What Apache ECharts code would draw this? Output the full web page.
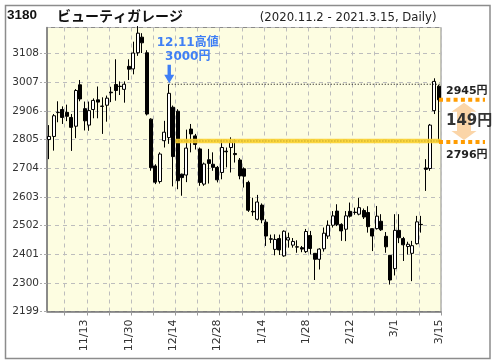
<!DOCTYPE html>
<html><head><meta charset="utf-8">
<script src="https://cdn.jsdelivr.net/npm/echarts@6/dist/echarts.min.js"></script>
<style>html,body{margin:0;padding:0;background:#fff}#c{width:496px;height:364px}</style>
</head><body><div id="c"></div>
<script>
const dates = ['11/2','11/4','11/5','11/6','11/9','11/10','11/11','11/12','11/13','11/16','11/17','11/18','11/19','11/20','11/24','11/25','11/26','11/27','11/30',
'12/1','12/2','12/3','12/4','12/7','12/8','12/9','12/10','12/11','12/14','12/15','12/16','12/17','12/18','12/21','12/22','12/23','12/24','12/25','12/28','12/29','12/30',
'1/4','1/5','1/6','1/7','1/8','1/12','1/13','1/14','1/15','1/18','1/19','1/20','1/21','1/22','1/25','1/26','1/27','1/28','1/29',
'2/1','2/2','2/3','2/4','2/5','2/8','2/9','2/10','2/12','2/15','2/16','2/17','2/18','2/19','2/22','2/24','2/25','2/26',
'3/1','3/2','3/3','3/4','3/5','3/8','3/9','3/10','3/11','3/12','3/15'];
const opens = [2805,2816,2900,2911,2901,2883,2852,2998,2914,2856,2911,2945,2923,2926,2972,2999,2993,2982,3063,
3054,3111,3166,3111,2877,2712,2657,2801,2812,2919,2905,2683,2680,2842,2818,2772,2648,2734,2718,2707,2689,2764,
2777,2756,2733,2702,2654,2552,2524,2574,2514,2455,2418,2456,2395,2451,2433,2427,2424,2410,2467,
2404,2383,2420,2465,2503,2553,2506,2489,2552,2549,2542,2555,2548,2491,2491,2517,2464,2397,
2350,2485,2456,2428,2404,2438,2506,2705,2703,2907,2993];
const closes = [2816,2889,2901,2883,2887,2848,2978,2948,2871,2907,2943,2937,2922,2951,2970,2978,2992,3000,3053,
3110,3180,3146,2895,2706,2655,2754,2831,2968,2745,2660,2671,2775,2825,2788,2654,2719,2721,2707,2663,2777,2762,
2795,2752,2677,2676,2556,2550,2585,2522,2465,2454,2453,2416,2482,2459,2446,2426,2419,2481,2421,
2383,2419,2475,2503,2536,2506,2483,2536,2535,2548,2565,2532,2498,2465,2535,2487,2427,2310,
2485,2459,2434,2436,2431,2515,2505,2700,2856,3010,2945];
const lows = [2736,2766,2866,2860,2870,2765,2810,2940,2837,2836,2880,2880,2825,2868,2937,2942,2962,2935,3015,
3035,3100,3110,2890,2695,2648,2650,2777,2790,2640,2630,2607,2655,2760,2770,2642,2642,2650,2695,2654,2665,2707,
2689,2724,2665,2636,2550,2536,2520,2510,2430,2440,2397,2398,2392,2424,2424,2406,2408,2405,2400,
2310,2347,2410,2455,2495,2500,2448,2447,2530,2540,2538,2525,2477,2412,2488,2483,2406,2294,
2326,2440,2377,2400,2306,2435,2477,2624,2695,2895,2796];
const highs = [2856,2895,2940,2922,2928,2895,2983,3015,2939,2939,2950,2992,2954,2960,2991,3088,3010,3010,3088,
3150,3205,3180,3120,2880,2718,2760,2871,3000,2925,2912,2685,2840,2860,2825,2777,2724,2772,2760,2712,2805,2777,
2813,2807,2740,2707,2660,2600,2610,2580,2524,2470,2471,2470,2485,2477,2458,2450,2430,2490,2483,
2404,2422,2495,2520,2553,2577,2510,2553,2583,2565,2600,2562,2570,2491,2571,2542,2479,2397,
2542,2542,2462,2445,2448,2536,2536,2736,2860,3021,2998];
const xLabelDates = ['11/13','11/30','12/14','12/28','1/14','1/28','2/12','3/1','3/15'];
const yMin = 2199, yMax = 3200, yStep = 101;
const stockCode = '3180';
const stockName = 'ビューティガレージ';
const periodText = '(2020.11.2 - 2021.3.15, Daily)';
const peakIndex = 27, peakValue = 3000;
const peakLabel1 = '12.11高値', peakLabel2 = '3000円';
const supportIndex = 28, supportValue = 2800;
const lastPrice = 2945, lastLow = 2796;
const lastPriceLabel = '2945円', lastLowLabel = '2796円', diffLabel = '149円';

const FONT = "'DejaVu Sans','Noto Sans CJK JP',sans-serif";
const chart = echarts.init(document.getElementById('c'));
const candleData = opens.map((o, i) => [o, closes[i], lows[i], highs[i]]);
const tickFn = (i) => (i - 4) % 5 === 0;
chart.setOption({
  animation: false,
  backgroundColor: '#ffffff',
  grid: {left: 47, top: 27.5, width: 394, height: 284, show: true, backgroundColor: '#fdfde1', borderColor: '#8a8a8a', borderWidth: 1},
  xAxis: {
    type: 'category', data: dates, boundaryGap: true,
    axisLine: {lineStyle: {color: '#777', width: 1.5}},
    axisTick: {show: true, length: 4, interval: tickFn, lineStyle: {color: '#999'}},
    splitLine: {show: true, interval: tickFn, lineStyle: {color: '#bdbdbd', type: [4, 4]}},
    axisLabel: {interval: (i, v) => xLabelDates.includes(v), rotate: 90, margin: 8, fontSize: 11, fontFamily: FONT, color: '#333', padding: [4.4, 0, 0, 0]}
  },
  yAxis: {
    type: 'value', min: yMin, max: yMax, interval: yStep,
    axisLine: {show: true, lineStyle: {color: '#777', width: 1.5}},
    axisTick: {show: true, length: 7, lineStyle: {color: '#aaa', type: [3, 2]}},
    splitLine: {lineStyle: {color: '#bdbdbd', type: [4, 4]}},
    axisLabel: {margin: 8, fontSize: 10.5, fontFamily: FONT, color: '#333', showMaxLabel: false, formatter: (v) => String(Math.round(v))}
  },
  series: [{
    type: 'candlestick', data: candleData, barWidth: 3.5,
    itemStyle: {color: '#ffffff', color0: '#000000', borderColor: '#000', borderColor0: '#000', borderColorDoji: '#000', borderWidth: 1}
  }]
});

const px = (i, v) => chart.convertToPixel({gridIndex: 0}, [i, v]);
const band = px(1, yMin)[0] - px(0, yMin)[0];
const rightX = px(dates.length - 1, yMin)[0] + band / 2;
const g = [];
g.push({type: 'rect', shape: {x: 5.5, y: 5.5, width: 484.5, height: 353}, style: {fill: 'none', stroke: '#8c8c8c', lineWidth: 1.5}, z: 0});
g.push({type: 'text', style: {text: stockCode, x: 7, y: 15.5, font: "bold 13.5px 'Liberation Sans',sans-serif", fill: '#111', verticalAlign: 'middle'}});
g.push({type: 'text', style: {text: stockName, x: 57, y: 15.5, font: "bold 14px 'Noto Sans CJK JP',sans-serif", fill: '#111', verticalAlign: 'middle'}});
g.push({type: 'text', style: {text: periodText, x: 436.5, y: 18, font: "11.7px " + FONT, fill: '#222', align: 'right', verticalAlign: 'middle'}});
const pk = px(peakIndex, peakValue);
g.push({type: 'line', shape: {x1: pk[0], y1: pk[1], x2: rightX, y2: pk[1]}, style: {stroke: '#000', lineWidth: 1, lineDash: [1, 2]}, z: 5});
const sp = px(supportIndex, supportValue);
g.push({type: 'line', shape: {x1: sp[0] + band / 2, y1: sp[1], x2: rightX, y2: sp[1]}, style: {stroke: '#fbd22e', lineWidth: 4.5, opacity: 0.9}, z: 5});
g.push({type: 'line', shape: {x1: sp[0] + band / 2, y1: sp[1], x2: rightX, y2: sp[1]}, style: {stroke: '#7a6400', lineWidth: 1, lineDash: [1, 2], opacity: 0.6}, z: 6});
const tip = pk[1] - 1, ax = pk[0] + 0.5;
g.push({type: 'polygon', shape: {points: [[ax - 1.7, tip - 18.5], [ax + 1.7, tip - 18.5], [ax + 1.7, tip - 8.5], [ax + 5, tip - 8.5], [ax, tip], [ax - 5, tip - 8.5], [ax - 1.7, tip - 8.5]]}, style: {fill: '#3f7ff5'}, z: 7});
g.push({type: 'text', style: {text: peakLabel1, x: ax + 18.5, y: tip - 40.5, font: "bold 12px " + FONT, fill: '#3f7ff5', align: 'center', verticalAlign: 'middle'}, z: 7});
g.push({type: 'text', style: {text: peakLabel2, x: ax + 18.5, y: tip - 26, font: "bold 12px " + FONT, fill: '#3f7ff5', align: 'center', verticalAlign: 'middle'}, z: 7});
const y1 = px(0, lastPrice)[1], y2 = px(0, lastLow)[1];
[y1, y2].forEach(yy => g.push({type: 'line', shape: {x1: rightX - 2, y1: yy, x2: 485, y2: yy}, style: {stroke: '#ff9c00', lineWidth: 4, lineDash: [4, 3.3]}, z: 8}));
const cx = 464, t = y1 + 3, b = y2 - 2;
g.push({type: 'polygon', shape: {points: [[cx, t], [cx + 12.5, t + 9], [cx + 7, t + 9], [cx + 7, b - 9], [cx + 12.5, b - 9], [cx, b], [cx - 12.5, b - 9], [cx - 7, b - 9], [cx - 7, t + 9], [cx - 12.5, t + 9]]}, style: {fill: '#fbd5a8'}, z: 7});
g.push({type: 'text', style: {text: lastPriceLabel, x: 446, y: y1 - 9, font: "bold 11px " + FONT, fill: '#222', verticalAlign: 'middle'}, z: 9});
g.push({type: 'text', style: {text: lastLowLabel, x: 446, y: y2 + 13.5, font: "bold 11px " + FONT, fill: '#222', verticalAlign: 'middle'}, z: 9});
g.push({type: 'text', style: {text: diffLabel, x: 446, y: (y1 + y2) / 2 + 0.5, font: "bold 15px " + FONT, fill: '#333', verticalAlign: 'middle'}, z: 9});
chart.setOption({graphic: g});
</script></body></html>
